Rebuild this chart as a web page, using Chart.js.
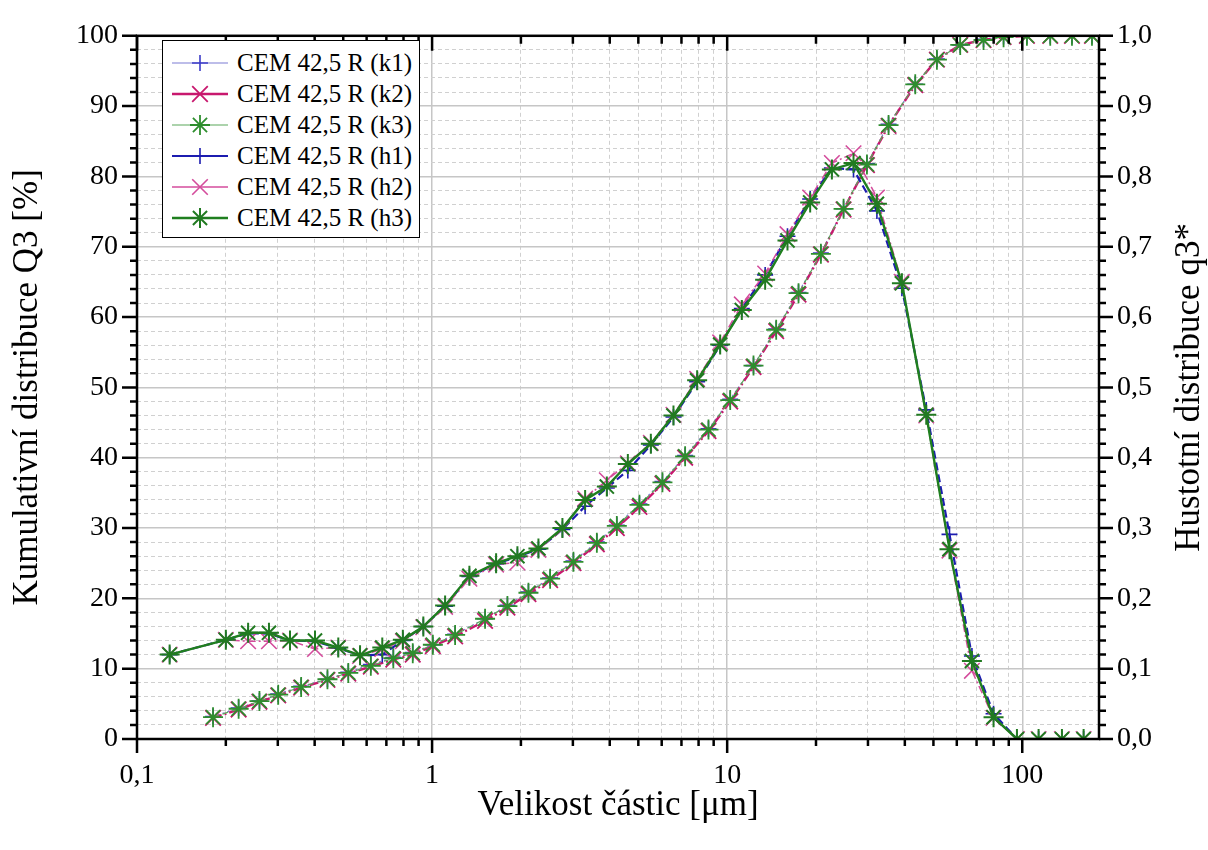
<!DOCTYPE html>
<html>
<head>
<meta charset="utf-8">
<script src="https://cdn.jsdelivr.net/npm/chart.js@4.4.1/dist/chart.umd.min.js"></script>
<style>
html, body { margin: 0; padding: 0; background: #fff; }
#wrap { position: relative; width: 1208px; height: 850px; }
#c { position: absolute; left: 0; top: 0; }
#legend { position: absolute; left: 162px; top: 40px; width: 258px; height: 198px; box-sizing: border-box;
  border: 1px solid #000; background: #fff; font-family: "Liberation Serif", serif; font-size: 25px; color: #000; padding-top: 6px; }
#legend .row { display: flex; align-items: center; height: 31px; white-space: nowrap; }
#legend svg { margin-left: 9px; margin-right: 9px; flex: none; }
</style>
</head>
<body>
<div id="wrap">
  <canvas id="c" width="1208" height="850"></canvas>
  <div id="legend"></div>
</div>
<script>
// ---------- data ----------
// particle sizes [µm] for the cumulative curves (upper bin edges)
const sizeCum = [0.181, 0.221, 0.260, 0.301, 0.360, 0.442, 0.520, 0.620, 0.739, 0.860,
  1.006, 1.197, 1.512, 1.800, 2.121, 2.512, 3.013, 3.617, 4.227, 5.043,
  6.035, 7.204, 8.643, 10.24, 12.28, 14.66, 17.45, 20.78, 24.80, 29.76,
  35.23, 43.39, 51.38, 61.63, 73.92, 86.43, 103.7, 124.4, 147.4, 172.3];
// particle sizes [µm] for the density curves (bin centres)
const sizeDen = [0.129, 0.200, 0.238, 0.280, 0.330, 0.401, 0.481, 0.570, 0.678, 0.796,
  0.934, 1.107, 1.338, 1.648, 1.946, 2.293, 2.765, 3.301, 3.910, 4.607,
  5.512, 6.577, 7.911, 9.469, 11.21, 13.45, 16.01, 19.11, 22.64, 26.80,
  32.17, 39.10, 47.28, 56.68, 67.52, 79.93, 95.94, 113.6, 136.3, 161.4];

// cumulative distribution Q3 [%] (left axis)
const k1 = [3.2, 4.4, 5.4, 6.4, 7.5, 8.5, 9.5, 10.6, 11.6, 12.3,
  13.4, 14.9, 17.1, 19.0, 20.9, 22.9, 25.3, 28.0, 30.4, 33.4,
  36.6, 40.3, 44.1, 48.3, 53.1, 58.3, 63.5, 69.1, 75.4, 81.8,
  87.4, 93.1, 96.7, 98.7, 99.5, 99.9, 100, 100, 100, 100];
const k2 = [3.0, 4.2, 5.3, 6.2, 7.3, 8.4, 9.3, 10.3, 11.3, 12.0,
  13.2, 14.6, 16.8, 18.7, 20.6, 22.6, 25.0, 27.7, 30.0, 33.0,
  36.3, 40.0, 43.8, 48.0, 52.9, 58.0, 63.2, 68.9, 75.3, 81.6,
  87.2, 93.0, 96.6, 98.7, 99.4, 99.8, 100, 100, 100, 100];
const k3 = [3.1, 4.3, 5.4, 6.3, 7.4, 8.5, 9.4, 10.4, 11.5, 12.2,
  13.4, 14.8, 17.1, 18.9, 20.8, 22.8, 25.2, 27.9, 30.3, 33.3,
  36.5, 40.2, 44.0, 48.2, 53.1, 58.2, 63.4, 69.0, 75.4, 81.7,
  87.3, 93.1, 96.6, 98.7, 99.4, 99.8, 100, 100, 100, 100];

// density distribution q3* (right axis)
const h1 = [0.120, 0.141, 0.150, 0.150, 0.140, 0.139, 0.129, 0.119, 0.120, 0.140,
  0.160, 0.189, 0.231, 0.249, 0.259, 0.270, 0.298, 0.331, 0.357, 0.382,
  0.418, 0.458, 0.508, 0.560, 0.612, 0.660, 0.715, 0.768, 0.812, 0.810,
  0.751, 0.641, 0.468, 0.291, 0.118, 0.036, 0, 0, 0, 0];
const h2 = [0.120, 0.141, 0.139, 0.139, 0.140, 0.128, 0.130, 0.118, 0.128, 0.139,
  0.159, 0.188, 0.228, 0.248, 0.251, 0.269, 0.299, 0.342, 0.368, 0.392,
  0.421, 0.461, 0.512, 0.564, 0.618, 0.662, 0.718, 0.770, 0.819, 0.833,
  0.770, 0.650, 0.460, 0.268, 0.097, 0.030, 0, 0, 0, 0];
const h3 = [0.120, 0.141, 0.151, 0.151, 0.140, 0.140, 0.130, 0.119, 0.130, 0.141,
  0.160, 0.190, 0.232, 0.250, 0.260, 0.271, 0.300, 0.340, 0.359, 0.391,
  0.420, 0.460, 0.510, 0.561, 0.610, 0.653, 0.709, 0.763, 0.810, 0.819,
  0.761, 0.648, 0.461, 0.270, 0.111, 0.031, 0, 0, 0, 0];

const seriesNames = ['CEM 42,5 R (k1)', 'CEM 42,5 R (k2)', 'CEM 42,5 R (k3)',
                     'CEM 42,5 R (h1)', 'CEM 42,5 R (h2)', 'CEM 42,5 R (h3)'];

// axis ticks
const xMajorTicks = [0.1, 1, 10, 100];
const xMajorLabels = ['0,1', '1', '10', '100'];
const xGridTicks = [0.1, 0.2, 0.3, 0.4, 0.5, 0.6, 0.7, 0.8, 0.9,
  1, 2, 3, 4, 5, 6, 7, 8, 9, 10, 20, 30, 40, 50, 60, 70, 80, 90, 100];
const xTitle = 'Velikost částic [μm]';
const yTitle = 'Kumulativní distribuce Q3 [%]';
const y1Title = 'Hustotní distribuce q3*';

// ---------- styles ----------
const FONT = '"Liberation Serif", "Times New Roman", serif';
const styles = [
  { line: '#7c7cd4', point: '#3c3cc8', width: 1.2, dash: [2, 3], shape: 'cross', r: 8, pw: 1.6 },
  { line: '#c8186e', point: '#c8186e', width: 2.4, dash: [9, 3, 2, 3], shape: 'crossRot', r: 11, pw: 1.8 },
  { line: '#5aa85a', point: '#2e8e2e', width: 1.2, dash: [6, 4], shape: 'star', r: 10, pw: 1.8 },
  { line: '#1c1cb0', point: '#1c1cb0', width: 2.2, dash: [8, 4], shape: 'cross', r: 8, pw: 1.6 },
  { line: '#d44c9c', point: '#d44c9c', width: 1.5, dash: [8, 3, 2, 3], shape: 'crossRot', r: 11, pw: 1.6 },
  { line: '#1f7f1f', point: '#217a21', width: 2.4, dash: [], shape: 'star', r: 10, pw: 2 }
];

function pts(xs, ys) { return xs.map((x, i) => ({ x: x, y: ys[i] })); }
const seriesData = [pts(sizeCum, k1), pts(sizeCum, k2), pts(sizeCum, k3),
                    pts(sizeDen, h1), pts(sizeDen, h2), pts(sizeDen, h3)];

const datasets = seriesData.map((d, i) => ({
  label: seriesNames[i],
  data: d,
  order: 5 - i,   // later series drawn on top, like the reference
  yAxisID: i < 3 ? 'y' : 'y1',
  borderColor: styles[i].line,
  borderWidth: styles[i].width,
  borderDash: styles[i].dash,
  pointStyle: styles[i].shape,
  pointRadius: styles[i].r,
  pointHoverRadius: styles[i].r,
  pointBorderColor: styles[i].point,
  pointBackgroundColor: styles[i].point,
  pointBorderWidth: styles[i].pw,
  fill: false,
  tension: 0,
  clip: 0
}));

function isDecade(v) { const l = Math.log10(v); return Math.abs(l - Math.round(l)) < 1e-9; }
function isMajorY(v) { return Math.abs(v / 10 - Math.round(v / 10)) < 1e-9; }
function isMajorY1(v) { return Math.abs(v * 10 - Math.round(v * 10)) < 1e-6; }

const MAJOR_GRID = '#c6c6c6';
const MINOR_GRID = '#d0d0d0';

// frame, tick marks and right-hand axis title
const framePlugin = {
  id: 'framePlugin',
  afterDraw(chart) {
    const { ctx, chartArea: { left, right, top, bottom } } = chart;
    const xs = chart.scales.x, yl = chart.scales.y, yr = chart.scales.y1;
    ctx.save();
    ctx.strokeStyle = '#000';
    ctx.lineWidth = 2.5;
    ctx.lineCap = 'butt';
    ctx.beginPath();
    xs.ticks.forEach(t => {
      const p = xs.getPixelForValue(t.value);
      const maj = isDecade(t.value);
      ctx.moveTo(p, bottom); ctx.lineTo(p, bottom + (maj ? 14 : 7));
      ctx.moveTo(p, top); ctx.lineTo(p, top + (maj ? 15 : 8));
    });
    yl.ticks.forEach(t => {
      const p = yl.getPixelForValue(t.value);
      ctx.moveTo(left, p); ctx.lineTo(left - (isMajorY(t.value) ? 15 : 7), p);
    });
    yr.ticks.forEach(t => {
      const p = yr.getPixelForValue(t.value);
      ctx.moveTo(right, p); ctx.lineTo(right + (isMajorY1(t.value) ? 14 : 7), p);
    });
    ctx.stroke();
    ctx.lineWidth = 2.5;
    ctx.strokeRect(left, top, right - left, bottom - top);
    // right axis title, reading bottom-to-top like the left one
    const tOpt = chart.options.scales.y1.title;
    ctx.translate(1190, (top + bottom) / 2);
    ctx.rotate(-Math.PI / 2);
    ctx.fillStyle = '#000';
    ctx.font = '35px ' + FONT;
    ctx.textAlign = 'center';
    ctx.textBaseline = 'middle';
    ctx.fillText(tOpt.text, 0, 0);
    ctx.restore();
  }
};

const chart = new Chart(document.getElementById('c'), {
  type: 'line',
  data: { datasets: datasets },
  options: {
    responsive: false,
    animation: false,
    events: [],
    layout: { padding: { top: 26, left: 0, right: 0, bottom: 0 } },
    plugins: { legend: { display: false }, tooltip: { enabled: false } },
    scales: {
      x: {
        type: 'logarithmic',
        min: 0.1, max: 182,
        afterBuildTicks: s => { s.ticks = xGridTicks.map(v => ({ value: v, major: isDecade(v) })); },
        afterFit: s => { s.height = 111; },
        ticks: {
          autoSkip: false, maxRotation: 0, minRotation: 0, padding: 20,
          color: '#000', font: { family: FONT, size: 28 },
          callback: v => { const i = xMajorTicks.findIndex(m => Math.abs(m - v) < 1e-9); return i >= 0 ? xMajorLabels[i] : ''; }
        },
        grid: {
          drawTicks: false,
          color: c => (c.tick && isDecade(c.tick.value)) ? MAJOR_GRID : MINOR_GRID,
          lineWidth: c => (c.tick && isDecade(c.tick.value)) ? 1.5 : 1
        },
        border: { display: false, dash: c => (c.tick && !isDecade(c.tick.value)) ? [4, 3] : [] },
        title: { display: true, text: xTitle, color: '#000', font: { family: FONT, size: 35, lineHeight: 1 }, padding: { top: 0, bottom: 27 } }
      },
      y: {
        type: 'linear', position: 'left',
        min: 0, max: 100,
        afterFit: s => { s.width = 137; },
        ticks: {
          stepSize: 2, autoSkip: false, padding: 19,
          color: '#000', font: { family: FONT, size: 28 },
          callback: v => isMajorY(v) ? String(Math.round(v)) : ''
        },
        grid: {
          drawTicks: false,
          color: c => (c.tick && isMajorY(c.tick.value)) ? MAJOR_GRID : MINOR_GRID,
          lineWidth: c => (c.tick && isMajorY(c.tick.value)) ? 1.5 : 1
        },
        border: { display: false, dash: c => (c.tick && !isMajorY(c.tick.value)) ? [4, 3] : [] },
        title: { display: true, text: yTitle, color: '#000', font: { family: FONT, size: 35, lineHeight: 1 }, padding: { top: 10, bottom: 0 } }
      },
      y1: {
        type: 'linear', position: 'right',
        min: 0, max: 1,
        afterFit: s => { s.width = 109; },
        ticks: {
          stepSize: 0.02, autoSkip: false, padding: 18,
          color: '#000', font: { family: FONT, size: 28 },
          callback: v => isMajorY1(v) ? v.toFixed(1).replace('.', ',') : ''
        },
        grid: { drawOnChartArea: false, drawTicks: false },
        border: { display: false },
        title: { display: false, text: y1Title }
      }
    }
  },
  plugins: [framePlugin]
});

// ---------- HTML legend built from the chart's datasets ----------
(function buildLegend() {
  const box = document.getElementById('legend');
  const NS = 'http://www.w3.org/2000/svg';
  chart.data.datasets.forEach((ds, i) => {
    const row = document.createElement('div');
    row.className = 'row';
    const svg = document.createElementNS(NS, 'svg');
    svg.setAttribute('width', '56'); svg.setAttribute('height', '26');
    const ln = document.createElementNS(NS, 'line');
    ln.setAttribute('x1', '0'); ln.setAttribute('x2', '56'); ln.setAttribute('y1', '13'); ln.setAttribute('y2', '13');
    ln.setAttribute('stroke', ds.borderColor); ln.setAttribute('stroke-width', ds.borderWidth);
    svg.appendChild(ln);
    const r = ds.pointRadius, cx = 28, cy = 13, d = r * Math.SQRT1_2;
    let path = '';
    if (ds.pointStyle === 'cross' || ds.pointStyle === 'star') path += `M${cx - r} ${cy}H${cx + r}M${cx} ${cy - r}V${cy + r}`;
    if (ds.pointStyle === 'crossRot' || ds.pointStyle === 'star') path += `M${cx - d} ${cy - d}L${cx + d} ${cy + d}M${cx - d} ${cy + d}L${cx + d} ${cy - d}`;
    const mk = document.createElementNS(NS, 'path');
    mk.setAttribute('d', path); mk.setAttribute('stroke', ds.pointBorderColor); mk.setAttribute('stroke-width', ds.pointBorderWidth); mk.setAttribute('fill', 'none');
    svg.appendChild(mk);
    const txt = document.createElement('span');
    txt.textContent = ds.label;
    row.appendChild(svg); row.appendChild(txt);
    box.appendChild(row);
  });
})();
</script>
</body>
</html>
